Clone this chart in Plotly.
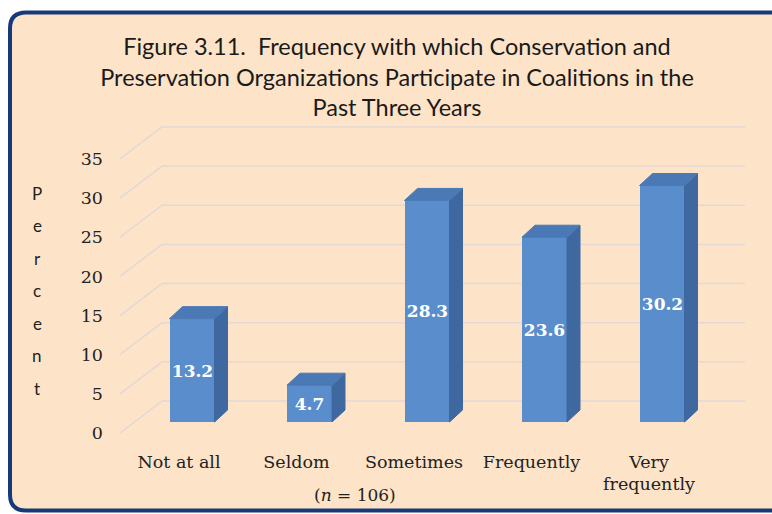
import plotly.graph_objects as go

# ---------------- data ----------------
categories = ["Not at all", "Seldom", "Sometimes", "Frequently", "Very<br>frequently"]
percents = [13.2, 4.7, 28.3, 23.6, 30.2]
y_ticks = [0, 5, 10, 15, 20, 25, 30, 35]
title_text = ("Figure 3.11.  Frequency with which Conservation and<br>"
              "Preservation Organizations Participate in Coalitions in the<br>"
              "Past Three Years")
y_label = "Percent"
note_text = "(<i>n</i> = 106)"

# ---------------- geometry / style ----------------
W, H = 772, 514


def px(x):
    return x / W


def py(y):
    return 1 - y / H


X_DOM = (162, 745)
Y_DOM = (120, 440)
X_UNIT, X_ZERO = 117.5, 192
Y_UNIT, Y_ZERO = 7.83, 422
x_range = [(X_DOM[0] - X_ZERO) / X_UNIT, (X_DOM[1] - X_ZERO) / X_UNIT]
y_range = [(Y_ZERO - Y_DOM[1]) / Y_UNIT, (Y_ZERO - Y_DOM[0]) / Y_UNIT]
BAR_W = 45 / X_UNIT
DEPTH_X = 13 / X_UNIT
DEPTH_Y = 12 / Y_UNIT
BACK_SHIFT = 21 / Y_UNIT
FRONT_SHIFT = 11 / Y_UNIT
FRONT_SHIFT_X = 13 / X_UNIT

FRONT = "#5a8dcb"
SIDE = "#3e689f"
TOP = "#4a79b6"
GRID = "#e2d8d4"
PEACH = "#fde4c9"
NAVY = "#17397a"
SERIF = "DejaVu Serif"
SANS = "Lato"

fig = go.Figure()

# side faces and top faces of the 3-D bars, derived from the values
side_x, side_y, top_x, top_y = [], [], [], []
for i, v in enumerate(percents):
    r = i + BAR_W / 2
    l = i - BAR_W / 2
    side_x += [r, r + DEPTH_X, r + DEPTH_X, r, r, None]
    side_y += [0, DEPTH_Y, v + DEPTH_Y, v, 0, None]
    top_x += [l, l + DEPTH_X, r + DEPTH_X, r, l, None]
    top_y += [v, v + DEPTH_Y, v + DEPTH_Y, v, v, None]

fig.add_trace(go.Scatter(x=side_x, y=side_y, mode="lines", fill="toself",
                         fillcolor=SIDE, line=dict(color=SIDE, width=1),
                         hoverinfo="skip", showlegend=False))
fig.add_trace(go.Scatter(x=top_x, y=top_y, mode="lines", fill="toself",
                         fillcolor=TOP, line=dict(color=TOP, width=1),
                         hoverinfo="skip", showlegend=False))

fig.add_trace(go.Bar(
    x=list(range(len(percents))), y=percents, width=BAR_W,
    marker=dict(color=FRONT, line=dict(width=0)),
    text=[f"{v:.1f}" for v in percents], textposition="inside",
    insidetextanchor="middle", constraintext="none", textangle=0,
    textfont=dict(family=SERIF, size=17, color="white", weight="bold"),
    hoverinfo="skip", showlegend=False,
))

shapes = []
# rounded frame
x0, y0, x1, y1, rr = 10, 12.5, 792, 510.5, 16
path = (f"M {px(x0 + rr)},{py(y0)} L {px(x1 - rr)},{py(y0)} "
        f"Q {px(x1)},{py(y0)} {px(x1)},{py(y0 + rr)} "
        f"L {px(x1)},{py(y1 - rr)} Q {px(x1)},{py(y1)} {px(x1 - rr)},{py(y1)} "
        f"L {px(x0 + rr)},{py(y1)} Q {px(x0)},{py(y1)} {px(x0)},{py(y1 - rr)} "
        f"L {px(x0)},{py(y0 + rr)} Q {px(x0)},{py(y0)} {px(x0 + rr)},{py(y0)} Z")
shapes.append(dict(type="path", path=path, xref="paper", yref="paper",
                   fillcolor=PEACH, line=dict(color=NAVY, width=4), layer="below"))

# back-wall gridlines and perspective side-wall lines
for v in y_ticks:
    shapes.append(dict(type="line", xref="x domain", yref="y", x0=0, x1=1,
                       y0=v + BACK_SHIFT, y1=v + BACK_SHIFT,
                       line=dict(color=GRID, width=1.5), layer="below"))
    shapes.append(dict(type="line", xref="paper", yref="y",
                       x0=px(120), x1=px(X_DOM[0]),
                       y0=v - FRONT_SHIFT, y1=v + BACK_SHIFT,
                       line=dict(color=GRID, width=1.5), layer="below"))

annotations = []
for k, ch in enumerate(y_label):
    annotations.append(dict(text=ch, x=px(37), y=py(193 + 32.5 * k),
                            xref="paper", yref="paper", showarrow=False,
                            xanchor="center", yanchor="middle",
                            font=dict(family=SANS, size=17, color="#222222")))
annotations.append(dict(text=note_text, x=px(355), y=py(495), xref="paper",
                        yref="paper", showarrow=False, xanchor="center",
                        yanchor="middle",
                        font=dict(family=SERIF, size=17, color="#222222")))

fig.update_layout(
    width=W, height=H,
    margin=dict(l=0, r=0, t=0, b=0, autoexpand=False),
    paper_bgcolor="white", plot_bgcolor="rgba(0,0,0,0)",
    title=dict(text=title_text, x=px(397), xanchor="center",
               y=py(55), yanchor="top",
               font=dict(family=SANS, size=23.5, color="#1a1a1a")),
    xaxis=dict(domain=[px(X_DOM[0]), px(X_DOM[1])], range=x_range,
               tickvals=[i - FRONT_SHIFT_X for i in range(len(categories))],
               ticktext=categories, showgrid=False, zeroline=False,
               showline=False, ticks="", fixedrange=True, automargin=False,
               ticklabelstandoff=9,
               tickfont=dict(family=SERIF, size=17.5, color="#222222")),
    yaxis=dict(domain=[py(Y_DOM[1]), py(Y_DOM[0])], range=y_range,
               tickvals=[v - FRONT_SHIFT for v in y_ticks],
               ticktext=[str(v) for v in y_ticks],
               showgrid=False, zeroline=False, showline=False, ticks="",
               ticklabelstandoff=58, fixedrange=True, automargin=False,
               tickfont=dict(family=SERIF, size=17.5, color="#222222")),
    shapes=shapes, annotations=annotations,
    bargap=0, showlegend=False,
)

fig.write_html(
    "out.html",
    config={"displayModeBar": False},
    post_script=("document.body.style.margin='0';"
                 "document.body.style.overflow='hidden';"
                 "document.documentElement.style.overflow='hidden';"))
